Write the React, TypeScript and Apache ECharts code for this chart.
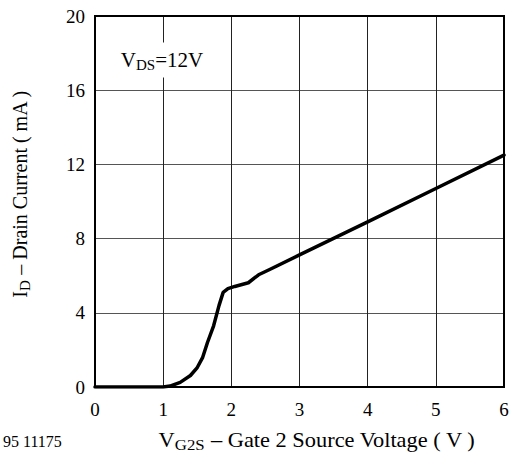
import React, { useEffect, useRef } from "react";
import * as echarts from "echarts";

// Gate-2 source voltage (V) and drain current (mA) at V_DS = 12 V
const vg2s = [0, 0.5, 1.0, 1.1, 1.25, 1.4, 1.5, 1.58, 1.65, 1.74, 1.82, 1.88, 1.95, 2.05, 2.25, 2.4, 2.57, 3, 4, 5, 6];
const idrain = [0, 0, 0, 0.05, 0.25, 0.62, 1.05, 1.6, 2.4, 3.3, 4.4, 5.1, 5.3, 5.42, 5.62, 6.05, 6.35, 7.12, 8.9, 10.7, 12.5];

const xTicks = { min: 0, max: 6, interval: 1 };
const yTicks = { min: 0, max: 20, interval: 4 };

const FONT = "Liberation Serif";

const richText = (main: number, sub: number) => ({
  m: { fontFamily: FONT, fontSize: main, lineHeight: main + 4, verticalAlign: "middle" },
  s: { fontFamily: FONT, fontSize: sub, lineHeight: sub, verticalAlign: "bottom" },
});

export default function App() {
  const ref = useRef<HTMLDivElement>(null);

  useEffect(() => {
    if (!ref.current) return;
    const chart = echarts.init(ref.current, null, { renderer: "svg" });
    const points = vg2s.map((v, i) => [v, idrain[i]]);

    chart.setOption({
      animation: false,
      backgroundColor: "#fff",
      grid: {
        left: 95,
        top: 16,
        width: 409,
        height: 371,
        show: true,
        borderColor: "#000",
        borderWidth: 2,
        backgroundColor: "transparent",
        z: 3,
      },
      xAxis: {
        type: "value",
        ...xTicks,
        axisLine: { show: false },
        axisTick: { show: false },
        axisLabel: {
          margin: 13,
          fontFamily: FONT,
          fontSize: 19,
          color: "#000",
        },
        splitLine: { show: true, lineStyle: { color: "#222", width: 1 } },
      },
      yAxis: {
        type: "value",
        ...yTicks,
        axisLine: { show: false },
        axisTick: { show: false },
        axisLabel: {
          margin: 10,
          fontFamily: FONT,
          fontSize: 19,
          color: "#000",
        },
        splitLine: { show: true, lineStyle: { color: "#555", width: 1 } },
      },
      series: [
        {
          type: "line",
          data: points,
          showSymbol: false,
          smooth: false,
          lineStyle: { color: "#000", width: 3.5, join: "round", cap: "round" },
          z: 4,
        },
      ],
      graphic: [
        {
          type: "text",
          x: 162,
          y: 60,
          z: 10,
          style: {
            text: "{m|V}{s|DS}{m|=12V}",
            align: "center",
            verticalAlign: "middle",
            backgroundColor: "#fff",
            padding: [5, 4, 5, 4],
            fill: "#000",
            rich: richText(21, 15),
          },
        },
        {
          type: "text",
          x: 20,
          y: 194,
          rotation: Math.PI / 2,
          z: 10,
          style: {
            text: "{m|I}{s|D}{m| – Drain Current ( mA )}",
            align: "center",
            verticalAlign: "middle",
            fill: "#000",
            rich: richText(20, 15),
          },
        },
        {
          type: "text",
          x: 317,
          y: 440,
          scaleX: 1.12,
          z: 10,
          style: {
            text: "{m|V}{s|G2S}{m| – Gate 2 Source Voltage ( V )}",
            align: "center",
            verticalAlign: "middle",
            fill: "#000",
            rich: richText(20, 15),
          },
        },
        {
          type: "text",
          x: 3,
          y: 441,
          z: 10,
          style: {
            text: "95 11175",
            fontFamily: FONT,
            fontSize: 16,
            fill: "#000",
            verticalAlign: "middle",
          },
        },
      ],
    });

    return () => chart.dispose();
  }, []);

  return (
    <div
      ref={ref}
      style={{ position: "absolute", left: 0, top: 0, width: 515, height: 456 }}
    />
  );
}
